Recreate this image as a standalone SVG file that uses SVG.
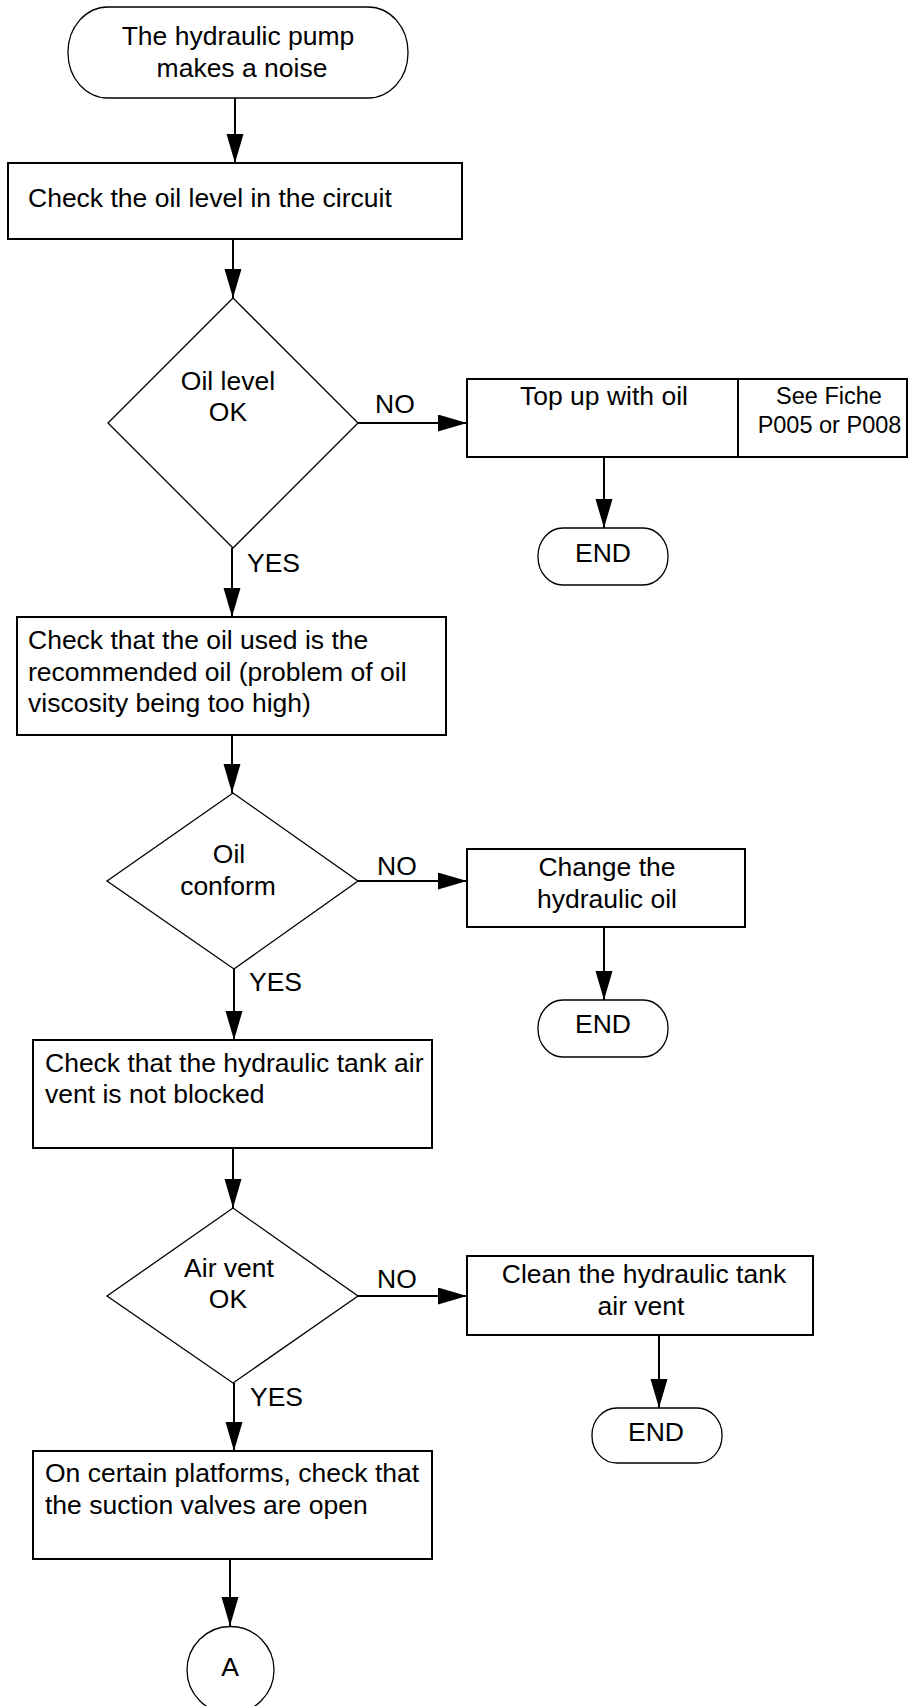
<svg xmlns="http://www.w3.org/2000/svg" width="909" height="1706" viewBox="0 0 909 1706">
<defs>
<marker id="arr" markerUnits="userSpaceOnUse" markerWidth="30" markerHeight="18" refX="29" refY="8.5" orient="auto">
<path d="M0,0 L29,8.5 L0,17 z" fill="#000"/>
</marker>
<style>
text{font-family:"Liberation Sans",Arial,sans-serif;font-size:26.5px;fill:#000}
.c{text-anchor:middle}
.sm{font-size:23.5px}
.box{fill:#fff;stroke:#000;stroke-width:2}
.thin{fill:#fff;stroke:#000;stroke-width:1.3}
.ln{fill:none;stroke:#000;stroke-width:2;marker-end:url(#arr)}
</style>
</defs>
<rect width="909" height="1706" fill="#fff"/>
<g id="connectors">
<line class="ln" x1="235" y1="98" x2="235" y2="163"/>
<line class="ln" x1="233" y1="239" x2="233" y2="298"/>
<line class="ln" x1="358" y1="423" x2="467" y2="423"/>
<line class="ln" x1="604" y1="457" x2="604" y2="528"/>
<line class="ln" x1="232" y1="548" x2="232" y2="617"/>
<line class="ln" x1="232" y1="735" x2="232" y2="793"/>
<line class="ln" x1="358" y1="881" x2="467" y2="881"/>
<line class="ln" x1="604" y1="927" x2="604" y2="1000"/>
<line class="ln" x1="234" y1="969" x2="234" y2="1040"/>
<line class="ln" x1="233" y1="1148" x2="233" y2="1208"/>
<line class="ln" x1="358" y1="1296" x2="467" y2="1296"/>
<line class="ln" x1="659" y1="1335" x2="659" y2="1408"/>
<line class="ln" x1="234" y1="1383" x2="234" y2="1451"/>
<line class="ln" x1="230" y1="1559" x2="230" y2="1626"/>
<text x="375" y="413">NO</text>
<text x="377" y="875">NO</text>
<text x="377" y="1288">NO</text>
<text x="247" y="572">YES</text>
<text x="249" y="991">YES</text>
<text x="250" y="1406">YES</text>
</g>
<g id="start">
<rect class="thin" x="68" y="7" width="340" height="91" rx="40" ry="45"/>
<text class="c" x="238" y="45">The hydraulic pump</text>
<text class="c" x="242" y="77">makes a noise</text>
</g>
<g id="check-level">
<rect class="box" x="8" y="163" width="454" height="76"/>
<text x="28" y="207">Check the oil level in the circuit</text>
</g>
<g id="dec-level">
<polygon class="thin" points="233,298 358,423 233,548 108,423"/>
<text class="c" x="228" y="390">Oil level</text>
<text class="c" x="228" y="421">OK</text>
</g>
<g id="top-up">
<rect class="box" x="467" y="379" width="440" height="78"/>
<line x1="738" y1="379" x2="738" y2="457" stroke="#000" stroke-width="2"/>
<text class="c" x="604" y="405">Top up with oil</text>
<text class="c sm" x="829" y="404">See Fiche</text>
<text class="c sm" x="829.5" y="433">P005 or P008</text>
</g>
<g id="end1">
<rect class="thin" x="538" y="528" width="130" height="57" rx="25" ry="28"/>
<text class="c" x="603" y="562">END</text>
</g>
<g id="check-oil">
<rect class="box" x="17" y="617" width="429" height="118"/>
<text x="28" y="649">Check that the oil used is the</text>
<text x="28" y="681">recommended oil (problem of oil</text>
<text x="28" y="712">viscosity being too high)</text>
</g>
<g id="dec-conform">
<polygon class="thin" points="233,793 358,881 234,969 107,881"/>
<text class="c" x="229" y="863">Oil</text>
<text class="c" x="228" y="895">conform</text>
</g>
<g id="change-oil">
<rect class="box" x="467" y="849" width="278" height="78"/>
<text class="c" x="607" y="876">Change the</text>
<text class="c" x="607" y="908">hydraulic oil</text>
</g>
<g id="end2">
<rect class="thin" x="538" y="1000" width="130" height="57" rx="25" ry="28"/>
<text class="c" x="603" y="1033">END</text>
</g>
<g id="check-vent">
<rect class="box" x="33" y="1040" width="399" height="108"/>
<text x="45" y="1072">Check that the hydraulic tank air</text>
<text x="45" y="1103">vent is not blocked</text>
</g>
<g id="dec-vent">
<polygon class="thin" points="233,1208 358,1296 233,1383 107,1296"/>
<text class="c" x="229" y="1277">Air vent</text>
<text class="c" x="228" y="1308">OK</text>
</g>
<g id="clean-vent">
<rect class="box" x="467" y="1256" width="346" height="79"/>
<text class="c" x="644" y="1283">Clean the hydraulic tank</text>
<text class="c" x="641" y="1315">air vent</text>
</g>
<g id="end3">
<rect class="thin" x="592" y="1408" width="130" height="55" rx="25" ry="27"/>
<text class="c" x="656" y="1441">END</text>
</g>
<g id="check-valves">
<rect class="box" x="33" y="1451" width="399" height="108"/>
<text x="45" y="1482">On certain platforms, check that</text>
<text x="45" y="1514">the suction valves are open</text>
</g>
<g id="connector-a">
<circle class="thin" cx="230.5" cy="1670" r="43.5"/>
<text class="c" x="230" y="1676">A</text>
</g>
</svg>
